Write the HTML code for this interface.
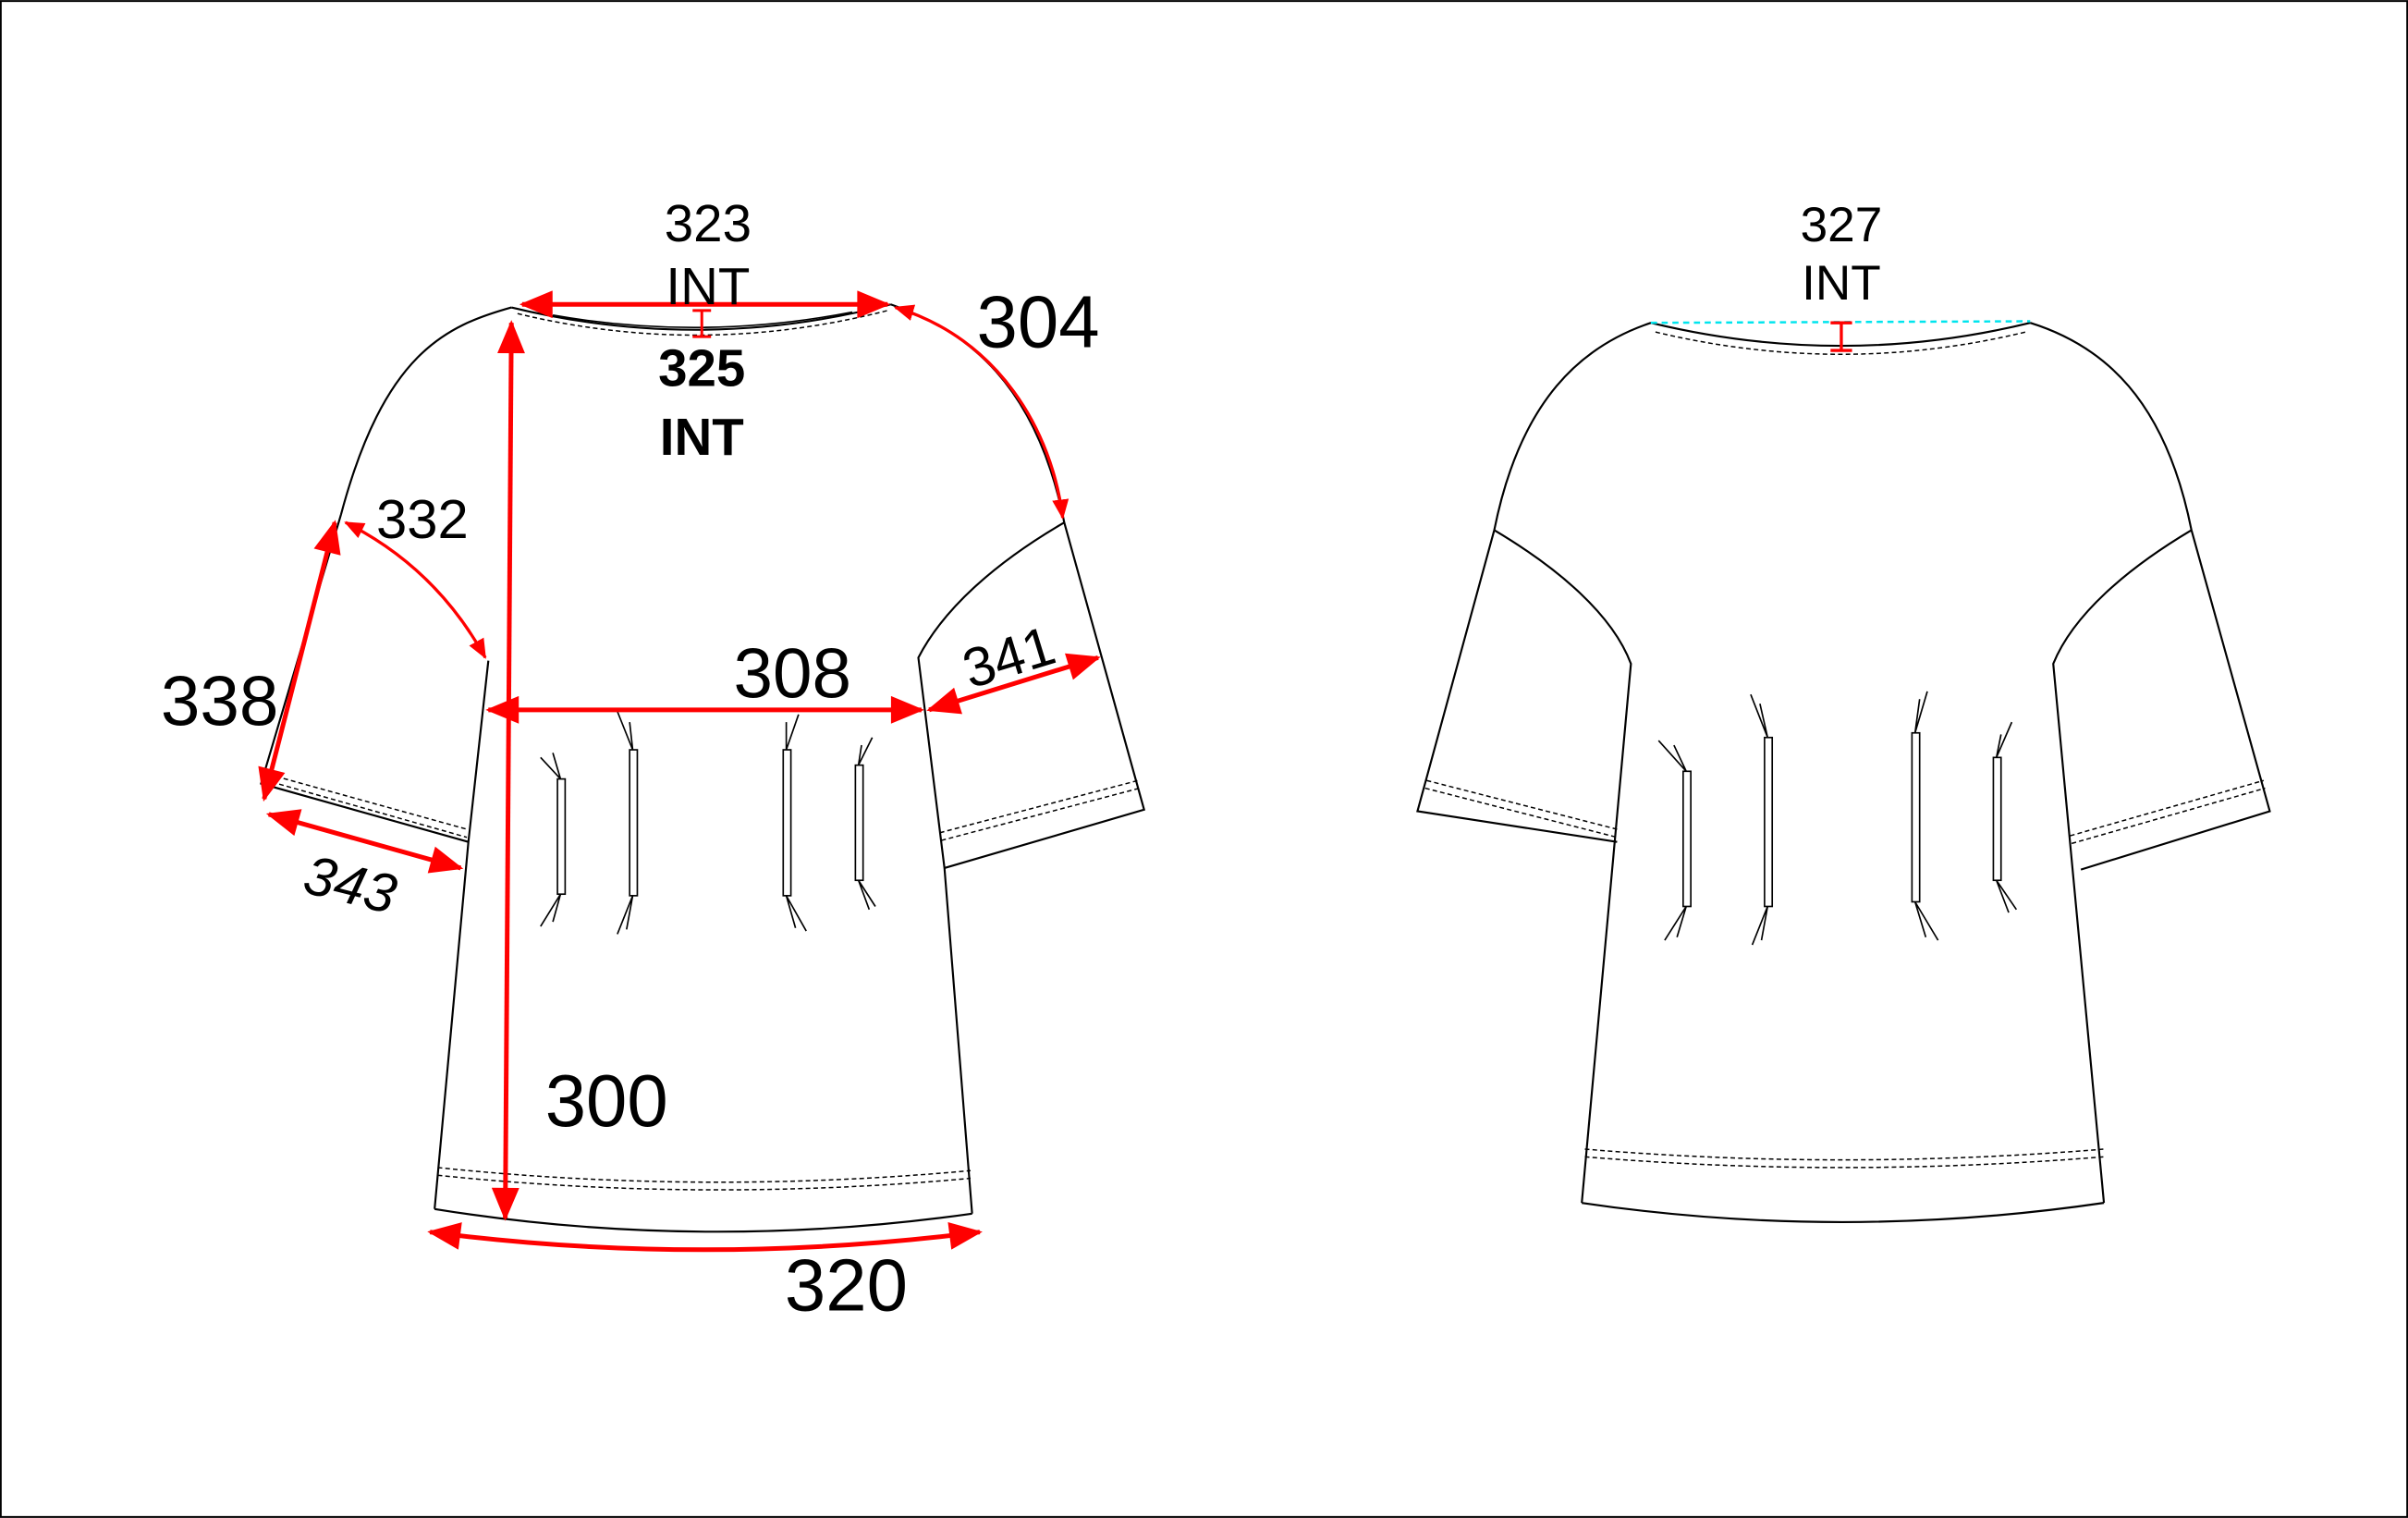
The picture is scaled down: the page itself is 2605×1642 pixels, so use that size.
<!DOCTYPE html>
<html><head><meta charset="utf-8"><style>
html,body{margin:0;padding:0;background:#fff}
svg{display:block}
text{font-family:"Liberation Sans",sans-serif;fill:#000}
</style></head><body>
<svg width="2605" height="1642" viewBox="0 0 1568 988" xmlns="http://www.w3.org/2000/svg">
<defs>
<marker id="ah" viewBox="0 0 10 10" refX="9" refY="5" markerWidth="7" markerHeight="7" markerUnits="userSpaceOnUse" orient="auto-start-reverse">
</marker>
<marker id="a" viewBox="0 0 12 10" refX="11" refY="5" markerWidth="22" markerHeight="18" markerUnits="userSpaceOnUse" orient="auto-start-reverse"><path d="M0,0 L12,5 L0,10 z" fill="#f00"/></marker>
<marker id="s" viewBox="0 0 12 10" refX="11" refY="5" markerWidth="13" markerHeight="11" markerUnits="userSpaceOnUse" orient="auto-start-reverse"><path d="M0,0 L12,5 L0,10 z" fill="#f00"/></marker>
</defs>
<rect x="0.5" y="0.5" width="1567" height="987" fill="#fff" stroke="#000" stroke-width="1.2"/>

<g fill="none" stroke="#000" stroke-width="1.3">
<!-- FRONT -->
<path d="M333,200 C290,212 250,230 222,335"/>
<path d="M580,198 C630,215 675,250 693,340"/>
<path d="M222,335 L170,510 L305,548"/>
<path d="M318,430 L305,548 L283,787"/>
<path d="M693,340 L745,527 L615,565"/>
<path d="M693,340 C650,365 615,395 598,428 L615,565 L633,790"/>
<path d="M283,787 Q457,815 633,790"/>
<path d="M333,200 Q457,230 580,198"/>
<path d="M360,205 Q457,222 555,203" stroke-width="1"/>
<path d="M337,204 Q457,233 578,202" stroke-dasharray="3,2" stroke-width="0.9"/>
<path d="M285,760 Q457,778 632,762" stroke-dasharray="3,2" stroke-width="0.9"/>
<path d="M285,765 Q457,783 632,767" stroke-dasharray="3,2" stroke-width="0.9"/>
<path d="M175,504 L305,540" stroke-dasharray="3,2" stroke-width="0.9"/>
<path d="M177,509 L304,545" stroke-dasharray="3,2" stroke-width="0.9"/>
<path d="M612,542 L741,508" stroke-dasharray="3,2" stroke-width="0.9"/>
<path d="M613,547 L742,513" stroke-dasharray="3,2" stroke-width="0.9"/>
<!-- front pleats -->
<g stroke-width="1">
<rect x="363" y="507" width="5" height="75"/><path d="M360,490 L365,507 M352,493 L365,507 M365,582 L352,603 M365,582 L360,600"/>
<rect x="410" y="488" width="5" height="95"/><path d="M402,463 L412,488 M410,470 L412,488 M412,583 L402,608 M412,583 L408,605"/>
<rect x="510" y="488" width="5" height="95"/><path d="M520,465 L512,488 M512,470 L512,488 M512,583 L525,606 M512,583 L518,604"/>
<rect x="557" y="498" width="5" height="75"/><path d="M568,480 L559,498 M561,485 L559,498 M559,573 L570,590 M559,573 L566,592"/>
</g>

<!-- BACK -->
<path d="M1075,210 C1030,225 990,260 973,345"/>
<path d="M1322,210 C1370,225 1410,260 1427,345"/>
<path d="M1075,210 Q1199,240 1322,210"/>
<path d="M1078,216 Q1199,245 1319,216" stroke-dasharray="3,2" stroke-width="0.9"/>
<path d="M973,345 C1015,370 1050,400 1062,432 L1030,783"/>
<path d="M973,345 L923,528 L1053,548"/>
<path d="M1427,345 C1385,370 1350,400 1337,432 L1370,783"/>
<path d="M1427,345 L1478,528 L1355,566"/>
<path d="M1030,783 Q1199,808 1370,783"/>
<path d="M1032,748 Q1199,762 1370,748" stroke-dasharray="3,2" stroke-width="0.9"/>
<path d="M1032,753 Q1199,767 1370,753" stroke-dasharray="3,2" stroke-width="0.9"/>
<path d="M929,508 L1054,540" stroke-dasharray="3,2" stroke-width="0.9"/>
<path d="M928,513 L1053,545" stroke-dasharray="3,2" stroke-width="0.9"/>
<path d="M1348,544 L1474,508" stroke-dasharray="3,2" stroke-width="0.9"/>
<path d="M1349,549 L1475,513" stroke-dasharray="3,2" stroke-width="0.9"/>
<g stroke-width="1">
<rect x="1096" y="502" width="5" height="88"/><path d="M1080,482 L1098,502 M1090,485 L1098,502 M1098,590 L1084,612 M1098,590 L1092,610"/>
<rect x="1149" y="480" width="5" height="110"/><path d="M1140,452 L1151,480 M1146,458 L1151,480 M1151,590 L1141,615 M1151,590 L1147,612"/>
<rect x="1245" y="477" width="5" height="110"/><path d="M1255,450 L1247,477 M1250,455 L1247,477 M1247,587 L1262,612 M1247,587 L1254,610"/>
<rect x="1298" y="493" width="5" height="80"/><path d="M1310,470 L1300,493 M1303,478 L1300,493 M1300,573 L1313,592 M1300,573 L1308,594"/>
</g>
</g>
<line x1="1075" y1="210" x2="1322" y2="209" stroke="#00e5ee" stroke-width="1.5" stroke-dasharray="4,3"/>

<!-- RED measurements -->
<g stroke="#f00" fill="none" stroke-width="3">
<line x1="340" y1="198" x2="578" y2="198" marker-start="url(#a)" marker-end="url(#a)"/>
<line x1="333" y1="210" x2="329" y2="793" marker-start="url(#a)" marker-end="url(#a)"/>
<line x1="318" y1="462" x2="600" y2="462" marker-start="url(#a)" marker-end="url(#a)"/>
<line x1="218" y1="340" x2="172" y2="520" marker-start="url(#a)" marker-end="url(#a)"/>
<line x1="175" y1="530" x2="300" y2="565" marker-start="url(#a)" marker-end="url(#a)"/>
<line x1="605" y1="462" x2="715" y2="428" marker-start="url(#a)" marker-end="url(#a)"/>
<path d="M280,802 Q457,825 638,802" marker-start="url(#a)" marker-end="url(#a)"/>
<path d="M583,200 C650,220 685,280 692,337" stroke-width="2" marker-start="url(#s)" marker-end="url(#s)"/>
<path d="M225,340 C265,360 295,390 316,428" stroke-width="2" marker-start="url(#s)" marker-end="url(#s)"/>
<path d="M451,202 H463 M457,202 V219 M451,219 H463" stroke-width="1.8"/>
<path d="M1192,210 H1206 M1199,210 V228 M1192,228 H1206" stroke-width="2"/>
</g>

<!-- labels -->
<g text-anchor="middle">
<text x="461" y="157" font-size="34">323</text>
<text x="461" y="198" font-size="34">INT</text>
<text x="457" y="251" font-size="34" font-weight="bold">325</text>
<text x="457" y="296" font-size="34" font-weight="bold">INT</text>
<text x="676" y="226" font-size="48">304</text>
<text x="275" y="350" font-size="36">332</text>
<text x="143" y="472" font-size="46">338</text>
<text x="516" y="454" font-size="46">308</text>
<text x="657" y="440" font-size="36" transform="rotate(-17 657 428)">341</text>
<text x="228" y="588" font-size="36" font-style="italic" transform="rotate(14 228 576)">343</text>
<text x="395" y="733" font-size="48">300</text>
<text x="551" y="853" font-size="48">320</text>
<text x="1199" y="157" font-size="32">327</text>
<text x="1199" y="195" font-size="32">INT</text>
</g>
</svg>
</body></html>
